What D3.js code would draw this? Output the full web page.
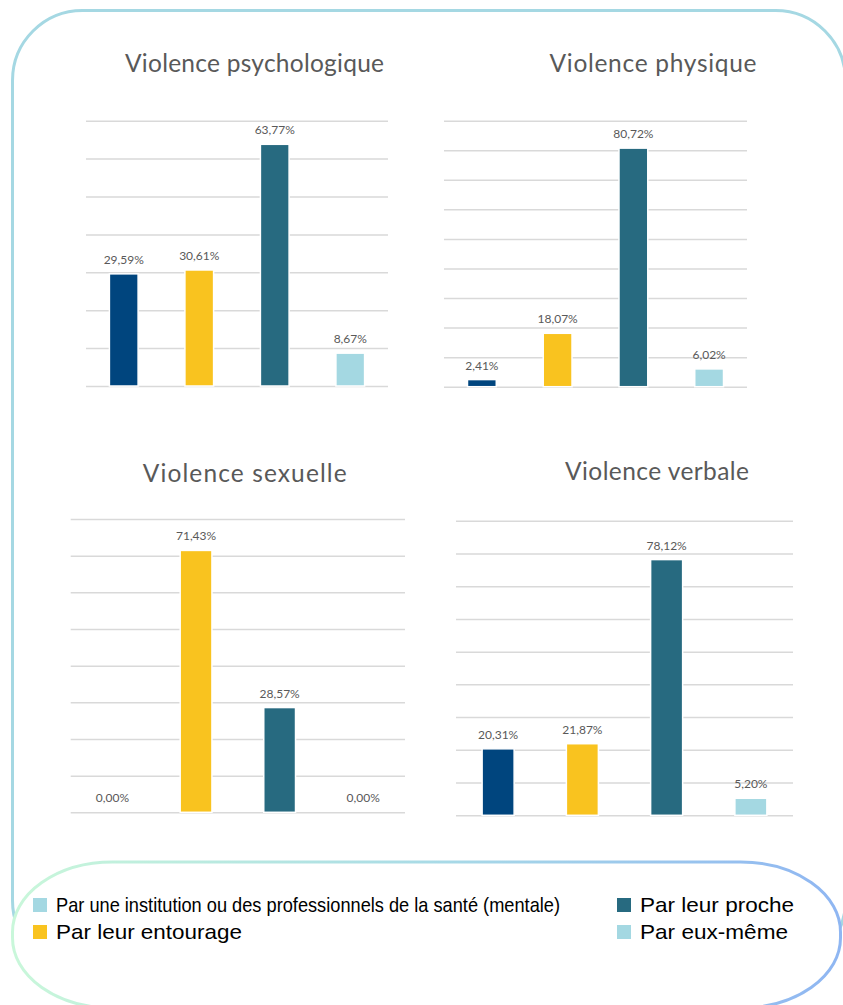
<!DOCTYPE html>
<html>
<head>
<meta charset="utf-8">
<script src="https://cdn.jsdelivr.net/npm/d3@7"></script>
<style>
  html, body { margin: 0; padding: 0; background: #fff; }
  svg { display: block; }
  .grid line { stroke: #d9d9d9; stroke-width: 1.5; }
  .grid .domain { display: none; }
  .grid text { display: none; }
</style>
</head>
<body>
<div id="chart"></div>
<script>
const width = 843;
const height = 1005;

// categories (legend order)
const categories = [
    "Par une institution ou des professionnels de la santé (mentale)",
    "Par leur entourage",
    "Par leur proche",
    "Par eux-même"
];
const barColors = ["#00457e", "#f9c31f", "#276a80", "#a4d8e2"];
const legendColors = ["#a4d8e2", "#f9c31f", "#276a80", "#a4d8e2"];

const titles = ["Violence psychologique", "Violence physique", "Violence sexuelle", "Violence verbale"];
const psychologique = [29.59, 30.61, 63.77, 8.67];
const physique = [2.41, 18.07, 80.72, 6.02];
const sexuelle = [0, 71.43, 28.57, 0];
const verbale = [20.31, 21.87, 78.12, 5.20];
const axisMax = [70, 90, 80, 90];

const seriesValues = [psychologique, physique, sexuelle, verbale];

// panel frames
const frames = [
    { x0: 86, x1: 388, y0: 120.7, y1: 386, tx: 254.5, ty: 71.7, tw: 259 },
    { x0: 444, x1: 747, y0: 120.7, y1: 386.7, tx: 653, ty: 72, tw: 207 },
    { x0: 70.7, x1: 405, y0: 519, y1: 812.3, tx: 244.7, ty: 481.5, tw: 204 },
    { x0: 456, x1: 793, y0: 520.7, y1: 815.3, tx: 657, ty: 480, tw: 184 }
];

const fmt = v => v.toFixed(2).replace('.', ',') + '%';

const svg = d3.select('#chart')
    .append('svg')
    .attr('width', width)
    .attr('height', height);

const defs = svg.append('defs');
const grad = defs.append('linearGradient')
    .attr('id', 'legendStroke')
    .attr('x1', '0%').attr('x2', '100%')
    .attr('y1', '0%').attr('y2', '0%');
grad.append('stop').attr('offset', '0%').attr('stop-color', '#c9f7da');
grad.append('stop').attr('offset', '50%').attr('stop-color', '#a9dbe6');
grad.append('stop').attr('offset', '100%').attr('stop-color', '#8fb6f2');

// cadre extérieur
svg.append('rect')
    .attr('x', 12.5)
    .attr('y', 10.5)
    .attr('width', 833)
    .attr('height', 960)
    .attr('rx', 70)
    .attr('ry', 70)
    .attr('fill', 'none')
    .attr('stroke', '#a5d8e3')
    .attr('stroke-width', 3);

frames.forEach((f, p) => {
    const values = seriesValues[p];
    const g = svg.append('g');

    const x = d3.scaleBand()
        .domain(d3.range(categories.length))
        .range([f.x0, f.x1])
        .paddingInner(0.62)
        .paddingOuter(0.31);

    const y = d3.scaleLinear()
        .domain([0, axisMax[p]])
        .range([f.y1, f.y0]);

    g.append('g')
        .attr('class', 'grid')
        .attr('transform', `translate(${f.x0},0)`)
        .call(d3.axisLeft(y)
            .tickValues(d3.range(0, axisMax[p] + 1, 10))
            .tickSize(-(f.x1 - f.x0))
            .tickFormat(''));

    g.selectAll('rect.bar')
        .data(values)
        .enter()
        .append('rect')
        .attr('class', 'bar')
        .attr('x', (d, i) => x(i))
        .attr('y', d => y(d))
        .attr('width', x.bandwidth())
        .attr('height', d => y(0) - y(d))
        .attr('fill', (d, i) => barColors[i])
        .attr('stroke', d => d > 0 ? '#fff' : 'none')
        .attr('stroke-width', 1.5);

    g.selectAll('text.lbl')
        .data(values)
        .enter()
        .append('text')
        .attr('class', 'lbl')
        .attr('x', (d, i) => x(i) + x.bandwidth() / 2)
        .attr('y', d => y(d) - 10)
        .attr('text-anchor', 'middle')
        .attr('font-family', 'Lato, "Open Sans", sans-serif')
        .attr('font-size', '12px')
        .attr('fill', '#595959')
        .text(d => fmt(d));

    g.append('text')
        .attr('x', f.tx)
        .attr('y', f.ty)
        .attr('text-anchor', 'middle')
        .attr('font-family', 'Lato, "Open Sans", sans-serif')
        .attr('font-size', '24.5px')
        .attr('fill', '#595959')
        .attr('textLength', f.tw)
        .text(titles[p]);
});

// boîte de légende
svg.append('rect')
    .attr('x', 12.5)
    .attr('y', 862)
    .attr('width', 828)
    .attr('height', 146)
    .attr('rx', 100)
    .attr('ry', 70)
    .attr('fill', '#fff')
    .attr('stroke', 'url(#legendStroke)')
    .attr('stroke-width', 3);

const legendPos = [
    { x: 33, y: 898, w: 504 },
    { x: 33, y: 925, w: 186 },
    { x: 617, y: 898, w: 154 },
    { x: 617, y: 925, w: 148 }
];

const legend = svg.append('g').attr('id', 'legend');

legend.selectAll('rect')
    .data(categories)
    .enter()
    .append('rect')
    .attr('x', (d, i) => legendPos[i].x)
    .attr('y', (d, i) => legendPos[i].y)
    .attr('width', 14)
    .attr('height', 14)
    .attr('fill', (d, i) => legendColors[i]);

legend.selectAll('text')
    .data(categories)
    .enter()
    .append('text')
    .attr('x', (d, i) => legendPos[i].x + 23)
    .attr('y', (d, i) => legendPos[i].y + 14)
    .attr('font-family', '"Liberation Sans", Arial, sans-serif')
    .attr('font-size', '21px')
    .attr('fill', '#000')
    .attr('textLength', (d, i) => legendPos[i].w)
    .attr('lengthAdjust', 'spacingAndGlyphs')
    .text(d => d);
</script>
</body>
</html>
